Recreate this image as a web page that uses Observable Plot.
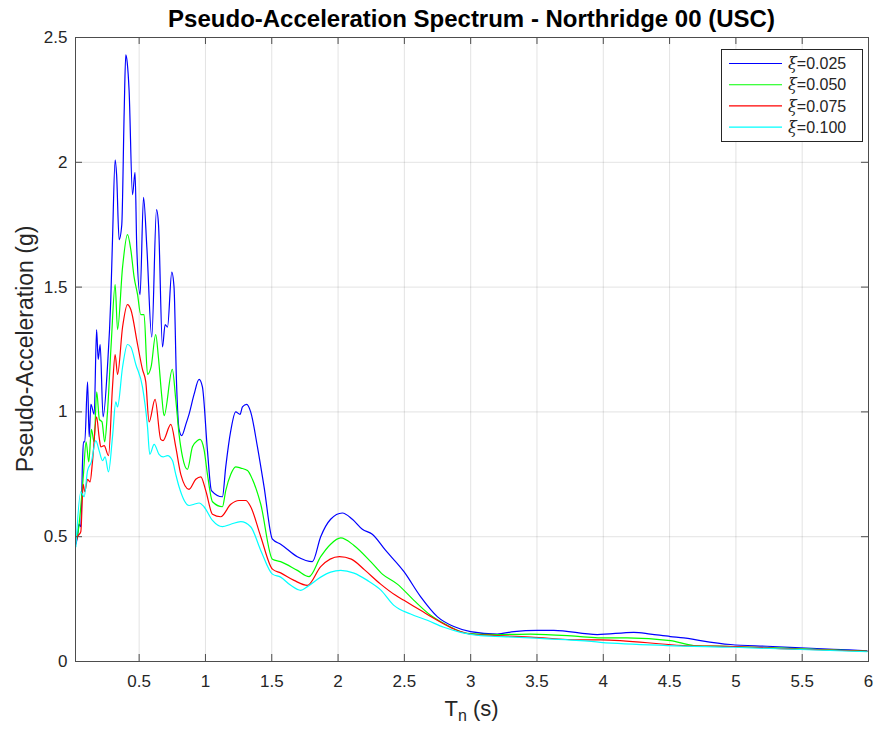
<!DOCTYPE html>
<html>
<head>
<meta charset="utf-8">
<script src="https://cdn.jsdelivr.net/npm/d3@7"></script>
<script src="https://cdn.jsdelivr.net/npm/@observablehq/plot@0.6"></script>
<style>
  html, body { margin: 0; padding: 0; background: #fff; }
  #chart { position: relative; width: 874px; height: 729px; font-family: "Liberation Sans", Arial, Helvetica, sans-serif; color: #262626; }
  #title { position: absolute; left: 75px; top: 0; width: 793px; height: 30px; line-height: 30px; padding-top: 4px; box-sizing: border-box; text-align: center; font-weight: bold; font-size: 24px; color: #000; white-space: nowrap; z-index: 2; }
  #plot { position: absolute; left: 0; top: 30px; }
  #legend { position: absolute; left: 721px; top: 49px; z-index: 2; }
</style>
</head>
<body>
<div id="chart">
  <div id="title">Pseudo-Acceleration Spectrum - Northridge 00 (USC)</div>
  <div id="plot"></div>
  <div id="legend"></div>
</div>
<script>
// Pseudo-acceleration response spectra, Northridge 00 (USC), four damping ratios.
// Each series: [period Tn (s), pseudo-acceleration (g)]
const xi025 = [
  [0.023,0.47],[0.035,0.50],[0.047,0.55],[0.06,0.54],[0.073,0.80],[0.08,0.88],[0.09,0.88],
  [0.111,1.12],[0.123,0.90],[0.136,1.03],[0.161,0.99],[0.179,1.33],[0.191,1.21],[0.206,1.27],
  [0.228,0.98],[0.261,1.18],[0.286,1.45],[0.299,1.69],[0.319,2.01],[0.33,1.95],[0.349,1.69],
  [0.369,1.75],[0.387,2.20],[0.399,2.43],[0.41,2.40],[0.424,2.29],[0.45,1.87],[0.469,1.96],
  [0.482,1.66],[0.507,1.47],[0.533,1.86],[0.558,1.66],[0.595,1.30],[0.631,1.81],[0.646,1.75],
  [0.676,1.26],[0.696,1.35],[0.714,1.34],[0.746,1.56],[0.763,1.50],[0.781,1.13],[0.801,0.93],
  [0.821,0.905],[0.852,0.95],[0.876,0.99],[0.914,1.07],[0.952,1.13],[0.977,1.10],[1.015,0.845],
  [1.045,0.685],[1.128,0.66],[1.153,0.78],[1.191,0.925],[1.228,1.00],[1.261,0.99],[1.279,1.02],
  [1.311,1.03],[1.341,1.00],[1.392,0.86],[1.442,0.70],[1.505,0.49],[1.567,0.47],[1.693,0.42],
  [1.806,0.40],[1.869,0.50],[1.944,0.57],[2.032,0.595],[2.108,0.57],[2.183,0.53],[2.258,0.51],
  [2.359,0.445],[2.497,0.36],[2.622,0.26],[2.748,0.18],[2.873,0.14],[2.999,0.12],[3.2,0.11],
  [3.326,0.12],[3.502,0.125],[3.627,0.125],[3.954,0.108],[4.23,0.117],[4.356,0.11],[4.506,0.10],
  [4.607,0.095],[4.733,0.084],[4.959,0.068],[5.235,0.061],[5.486,0.055],[5.737,0.049],[5.989,0.043]
];
const xi050 = [
  [0.023,0.48],[0.04,0.52],[0.06,0.62],[0.08,0.75],[0.10,0.88],[0.12,0.80],[0.14,0.93],
  [0.16,0.88],[0.18,1.08],[0.20,0.97],[0.22,0.96],[0.24,0.88],[0.26,0.99],[0.29,1.28],
  [0.319,1.51],[0.337,1.33],[0.375,1.58],[0.412,1.71],[0.437,1.65],[0.462,1.54],[0.488,1.47],
  [0.512,1.39],[0.537,1.39],[0.563,1.15],[0.59,1.18],[0.625,1.31],[0.645,1.22],[0.671,1.06],
  [0.688,0.985],[0.75,1.17],[0.776,1.05],[0.801,0.91],[0.827,0.82],[0.864,0.77],[0.902,0.86],
  [0.94,0.885],[0.959,0.89],[0.989,0.85],[1.015,0.75],[1.053,0.64],[1.128,0.62],[1.153,0.685],
  [1.191,0.75],[1.228,0.78],[1.266,0.775],[1.317,0.765],[1.354,0.73],[1.417,0.63],[1.505,0.41],
  [1.567,0.40],[1.693,0.365],[1.781,0.34],[1.869,0.42],[1.944,0.47],[2.02,0.495],[2.12,0.465],
  [2.246,0.40],[2.334,0.35],[2.447,0.31],[2.572,0.245],[2.698,0.185],[2.824,0.145],[2.974,0.113],
  [3.2,0.108],[3.451,0.11],[3.828,0.10],[3.979,0.095],[4.18,0.095],[4.506,0.084],[4.682,0.064],
  [4.983,0.06],[5.486,0.051],[5.989,0.041]
];
const xi075 = [
  [0.023,0.48],[0.035,0.50],[0.06,0.52],[0.078,0.71],[0.09,0.68],[0.111,0.73],[0.13,0.72],
  [0.148,0.80],[0.179,0.98],[0.198,0.90],[0.211,0.86],[0.236,0.865],[0.269,0.825],[0.299,1.10],
  [0.319,1.23],[0.337,1.15],[0.375,1.34],[0.412,1.43],[0.437,1.41],[0.488,1.27],[0.525,1.17],
  [0.55,1.12],[0.575,0.96],[0.62,1.05],[0.663,0.89],[0.68,0.885],[0.739,0.95],[0.776,0.86],
  [0.814,0.75],[0.876,0.69],[0.927,0.73],[0.965,0.74],[1.002,0.685],[1.053,0.59],[1.115,0.58],
  [1.191,0.63],[1.253,0.645],[1.304,0.645],[1.341,0.62],[1.417,0.50],[1.505,0.37],[1.567,0.355],
  [1.668,0.325],[1.769,0.305],[1.869,0.38],[2.01,0.42],[2.10,0.41],[2.20,0.367],[2.321,0.31],
  [2.434,0.265],[2.497,0.245],[2.622,0.205],[2.748,0.165],[2.873,0.13],[2.999,0.11],[3.2,0.104],
  [3.451,0.098],[3.828,0.087],[3.979,0.087],[4.607,0.064],[4.983,0.06],[5.486,0.049],[5.989,0.041]
];
const xi100 = [
  [0.023,0.46],[0.06,0.68],[0.085,0.66],[0.111,0.765],[0.14,0.80],[0.173,0.885],[0.198,0.845],
  [0.224,0.805],[0.243,0.82],[0.269,0.76],[0.299,0.90],[0.324,1.04],[0.337,1.02],[0.375,1.18],
  [0.412,1.27],[0.437,1.26],[0.475,1.19],[0.525,1.10],[0.563,0.94],[0.58,0.83],[0.613,0.87],
  [0.65,0.83],[0.68,0.82],[0.714,0.825],[0.751,0.805],[0.776,0.75],[0.801,0.70],[0.876,0.625],
  [0.914,0.63],[0.952,0.635],[0.989,0.62],[1.053,0.565],[1.128,0.54],[1.191,0.55],[1.266,0.56],
  [1.341,0.54],[1.417,0.445],[1.505,0.35],[1.567,0.338],[1.643,0.305],[1.718,0.285],[1.769,0.30],
  [1.869,0.338],[1.944,0.358],[2.02,0.365],[2.12,0.354],[2.221,0.325],[2.321,0.287],[2.421,0.225],
  [2.547,0.19],[2.673,0.165],[2.798,0.137],[2.924,0.117],[3.075,0.104],[3.326,0.098],[3.577,0.091],
  [3.828,0.084],[3.979,0.077],[4.481,0.064],[4.983,0.057],[5.486,0.048],[5.989,0.039]
];

const dampingRatios = [0.025, 0.050, 0.075, 0.100];
const seriesColors = ["#0000ff", "#00ff00", "#ff0000", "#00ffff"];
const xTicks = [0.5, 1, 1.5, 2, 2.5, 3, 3.5, 4, 4.5, 5, 5.5, 6];
const yTicks = [0, 0.5, 1, 1.5, 2, 2.5];

const seriesList = [xi025, xi050, xi075, xi100];
const labels = dampingRatios.map(d => "ξ=" + d.toFixed(3));
const rows = seriesList.flatMap((s, i) => s.map(([T, A]) => ({T, A, damping: labels[i]})));

const W = 874, H = 699;
const mTop = 7, mLeft = 75, mRight = 6, mBottom = 68;
const innerW = W - mLeft - mRight, innerH = H - mTop - mBottom;
const tickLen = 7;
const axisColor = "#4d4d4d";

const chart = Plot.plot({
  width: W, height: H,
  marginTop: mTop, marginLeft: mLeft, marginRight: mRight, marginBottom: mBottom,
  style: {fontFamily: '"Liberation Sans", Arial, Helvetica, sans-serif', fontSize: "17px", color: "#262626", background: "transparent", overflow: "visible"},
  x: {domain: [0.02, 6]},
  y: {domain: [0, 2.5]},
  color: {domain: labels, range: seriesColors},
  marks: [
    Plot.gridX(xTicks, {stroke: "#262626", strokeOpacity: 0.13}),
    Plot.gridY(yTicks, {stroke: "#262626", strokeOpacity: 0.13}),
    Plot.line(rows, {x: "T", y: "A", stroke: "damping", z: "damping", strokeWidth: 1.2, curve: "monotone-x"}),
    Plot.frame({stroke: axisColor, strokeWidth: 1}),
    // inward tick marks on all four sides
    Plot.tickX(xTicks, {x: d => d, insetTop: innerH - tickLen, stroke: axisColor}),
    Plot.tickX(xTicks, {x: d => d, insetBottom: innerH - tickLen, stroke: axisColor}),
    Plot.tickY(yTicks, {y: d => d, insetRight: innerW - tickLen, stroke: axisColor}),
    Plot.tickY(yTicks, {y: d => d, insetLeft: innerW - tickLen, stroke: axisColor}),
    Plot.axisX(xTicks, {tickSize: 0, tickPadding: 13, label: null, tickFormat: d => String(d)}),
    Plot.axisY(yTicks, {tickSize: 0, tickPadding: 8, label: null, tickFormat: d => String(d)})
  ]
});
document.getElementById("plot").appendChild(chart);

// axis titles, with the subscript on Tn
const svg = d3.select(chart);
const xt = svg.append("text")
  .attr("x", mLeft + innerW / 2)
  .attr("y", 686)
  .attr("text-anchor", "middle")
  .attr("fill", "#262626")
  .style("font-size", "22px");
xt.append("tspan").text("T");
xt.append("tspan").attr("dy", 5).style("font-size", "16px").text("n");
xt.append("tspan").attr("dy", -5).text(" (s)");

svg.append("text")
  .attr("transform", `translate(33, ${mTop + innerH / 2}) rotate(-90)`)
  .attr("text-anchor", "middle")
  .attr("fill", "#262626")
  .style("font-size", "23px")
  .text("Pseudo-Acceleration (g)");

// legend box
const lg = d3.select("#legend").append("svg")
  .attr("width", 142).attr("height", 93)
  .style("font-family", '"Liberation Sans", Arial, Helvetica, sans-serif');
lg.append("rect").attr("x", 0.5).attr("y", 0.5).attr("width", 141).attr("height", 92)
  .attr("fill", "#fff").attr("stroke", "#262626").attr("stroke-width", 1);
labels.forEach((lab, i) => {
  const cy = 14.5 + i * 21.2;
  lg.append("line").attr("x1", 8).attr("x2", 61).attr("y1", cy).attr("y2", cy)
    .attr("stroke", seriesColors[i]).attr("stroke-width", 1.1);
  const t = lg.append("text").attr("x", 67).attr("y", cy).attr("dy", "0.35em")
    .attr("fill", "#262626").style("font-size", "16px");
  t.append("tspan").style("font-family", '"DejaVu Serif", serif').style("font-style", "italic").text("ξ");
  t.append("tspan").text(lab.slice(1));
});
</script>
</body>
</html>
